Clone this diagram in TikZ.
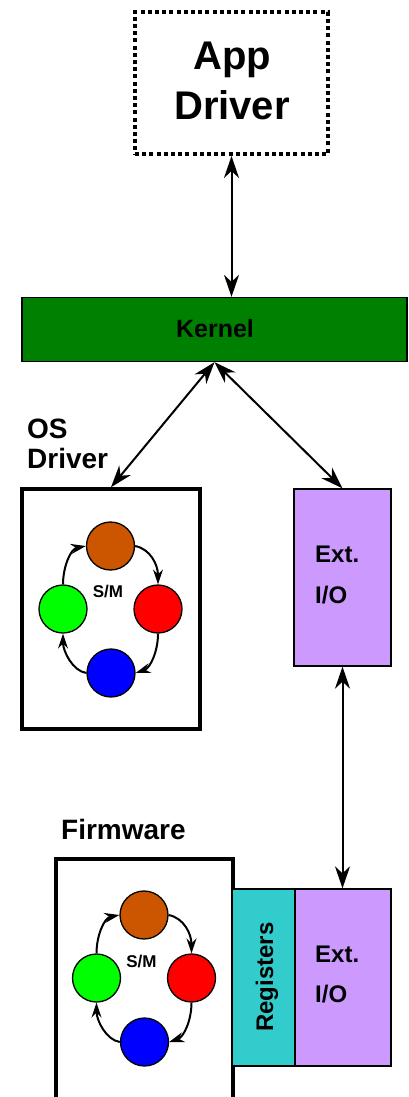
\documentclass[tikz,border=0pt]{standalone}
\usepackage{fontspec}
\setmainfont{Liberation Sans}
\usetikzlibrary{arrows.meta}
\definecolor{kgreen}{RGB}{0,128,0}
\definecolor{lav}{RGB}{204,153,255}
\definecolor{teal2}{RGB}{51,204,204}
\definecolor{smbrown}{RGB}{204,85,0}
\tikzset{
  conn/.style={line width=2pt,{Stealth[length=22pt,width=15pt,inset=7pt]}-{Stealth[length=22pt,width=15pt,inset=7pt]}},
  cyc/.style={line width=2pt,-{Stealth[length=15pt,width=10pt,inset=5pt]}},
  st/.style={circle,draw=black,line width=1.3pt,minimum size=48pt,inner sep=0pt},
  lbl/.style={font=\bfseries\fontsize{#1}{#1}\selectfont,inner sep=0pt},
  thickbox/.style={draw=black,line width=3.5pt,inner sep=0pt},
  thinbox/.style={draw=black,line width=1.3pt,inner sep=0pt},
  sm/.pic={
    \node[st,fill=smbrown] (b) at (0,-63) {};
    \node[st,fill=green] (g) at (-47.5,0) {};
    \node[st,fill=red] (r) at (47.5,0) {};
    \node[st,fill=blue] (u) at (0.5,64) {};
    \node[lbl=17] (t) at (-2.5,-17) {S/M};
    \draw[cyc] (b.east) .. controls (40,-60) and (47.5,-44) .. (r.north);
    \draw[cyc] (r.south) .. controls (47.5,42) and (40,59) .. (u.east);
    \draw[cyc] (u.west) .. controls (-38,62) and (-47.5,42) .. (g.south);
    \draw[cyc] (g.north) .. controls (-47.5,-42) and (-40,-60) .. (b.west);
  }
}
\begin{document}
\begin{tikzpicture}[x=1pt,y=-1pt]
\useasboundingbox (0,0) rectangle (408,1097);
% App driver
\node[draw=black,line width=4pt,dash pattern=on 4pt off 3.2pt,minimum width=193pt,minimum height=142pt,inner sep=0pt] (app) at (231.5,83) {};
\node[lbl=40,anchor=base] (appa) at (232,70) {App};
\node[lbl=40,anchor=base] (appd) at (232,120) {Driver};
% Kernel
\node[thinbox,fill=kgreen,minimum width=385pt,minimum height=64pt] (kernel) at (214.5,329.5) {};
\node[lbl=25,anchor=base] (kt) at (215,337.5) {Kernel};
% OS driver
\node[lbl=28,anchor=base west] (os1) at (27,438) {OS};
\node[lbl=28,anchor=base west] (os2) at (27,468) {Driver};
\node[thickbox,minimum width=178pt,minimum height=240pt] (osbox) at (111,609) {};
\pic (os) at (110.5,609) {sm};
% Ext I/O upper
\node[thinbox,fill=lav,minimum width=97pt,minimum height=177pt] (extu) at (342.5,577.5) {};
\node[lbl=24,anchor=base west] (extu1) at (315,562) {Ext.};
\node[lbl=24,anchor=base west] (extu2) at (315,603) {I/O};
% Firmware
\node[lbl=28,anchor=base west] (fwl) at (61,839) {Firmware};
\coordinate (fwbl) at (56,1110);
\coordinate (fwtl) at (56,859);
\coordinate (fwtr) at (233,859);
\coordinate (fwbr) at (233,1110);
\draw[line width=3.5pt] (fwbl) -- (fwtl) -- (fwtr) -- (fwbr);
\pic (fw) at (144,978) {sm};
% Registers and Ext I/O lower
\node[thinbox,fill=teal2,minimum width=63pt,minimum height=177pt] (reg) at (263.5,977.5) {};
\node[lbl=24,anchor=base,rotate=90] (regt) at (273,977) {Registers};
\node[thinbox,fill=lav,minimum width=96pt,minimum height=177pt] (extl) at (343,977.5) {};
\node[lbl=24,anchor=base west] (extl1) at (315,962) {Ext.};
\node[lbl=24,anchor=base west] (extl2) at (315,1002) {I/O};
% connectors
\draw[conn] (app.south) -- (app.south |- kernel.north);
\draw[conn] (kernel.south) -- (osbox.north);
\draw[conn] (kernel.south) -- (extu.north);
\draw[conn] (extu.south) -- (extu.south |- extl.north);
\end{tikzpicture}
\end{document}
